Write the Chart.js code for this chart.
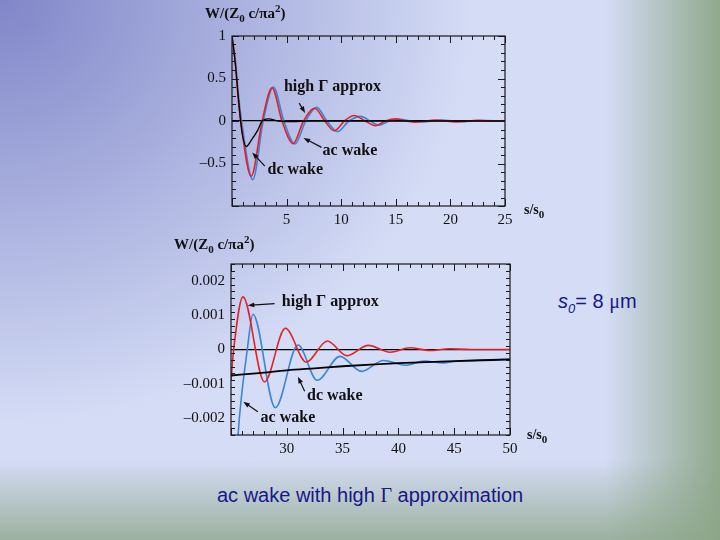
<!DOCTYPE html>
<html>
<head>
<meta charset="utf-8">
<script src="https://cdn.jsdelivr.net/npm/chart.js@4.4.0/dist/chart.umd.min.js"></script>
<style>
  body {
    margin: 0; width: 720px; height: 540px; overflow: hidden; position: relative;
    background:
      linear-gradient(to right, rgba(140,165,135,0) 84%, rgba(140,165,135,0.95) 100%),
      linear-gradient(to bottom, rgba(150,172,150,0) 85%, rgba(150,172,150,0.9) 100%),
      radial-gradient(ellipse 480px 430px at 0 0, rgba(128,134,200,1), rgba(128,134,200,0)),
      #d5ddf6;
  }
  canvas { position: absolute; }
  .ttl { position: absolute; font: bold 15px "Liberation Serif", serif; color: #111; white-space: nowrap; }
  .ttl sub, .ttl sup { font-size: 11px; line-height: 0; }
  .slide { position: absolute; font: 20px "Liberation Sans", Arial, sans-serif; color: #17178a; white-space: nowrap; }
  .slide sub { font-size: 13px; line-height: 0; }
</style>
</head>
<body>
<canvas id="top" width="370" height="232" style="left:180px;top:0px"></canvas>
<canvas id="bottom" width="380" height="228" style="left:170px;top:232px"></canvas>

<div class="ttl" style="left:205px;top:5px">W/(Z<sub>0</sub> c/πa<sup>2</sup>)</div>
<div class="ttl" style="left:174px;top:236px">W/(Z<sub>0</sub> c/πa<sup>2</sup>)</div>
<div class="ttl" style="left:524px;top:202px;font-size:14px">s/s<sub>0</sub></div>
<div class="ttl" style="left:527px;top:427px;font-size:14px">s/s<sub>0</sub></div>

<div class="slide" style="left:558px;top:290px"><i>s<sub>0</sub></i>= 8 <span style="font-family:'Liberation Serif',serif">μ</span>m</div>
<div class="slide" style="left:217px;top:484px">ac wake with high <span style="font-family:'Liberation Serif',serif">Γ</span> approximation</div>

<script>
// top panel, s/s0 from 0 to 25
const topTicksX = [5, 10, 15, 20, 25];
const topTicksY = [-0.5, 0, 0.5, 1];

const redTopS = [0, 0.3, 0.55, 0.8, 1.76, 2.76, 3.67, 4.58, 5.6, 6.55, 7.58, 8.5, 9.36, 10.3, 11.18, 12.2, 13.15, 14.05, 14.97, 15.9, 16.8, 17.7, 18.6, 19.6, 20.7, 21.6, 22.5, 23.5, 25];
const redTopW = [1, 0.69, 0.29, 0, -0.65, 0, 0.39, 0, -0.266, 0, 0.15, 0, -0.115, 0, 0.065, 0, -0.055, 0, 0.025, 0, -0.015, 0, 0.01, 0, -0.01, 0, 0.008, 0, 0];

const blueTopS = [0, 0.3, 0.6, 0.88, 1.9, 2.86, 3.79, 4.75, 5.76, 6.75, 7.75, 8.7, 9.67, 10.7, 11.79, 12.65, 13.45, 14.4, 15.4, 16.4, 17.4, 18.3, 19.2, 20.2, 21.2, 22.2, 23.2, 25];
const blueTopW = [1, 0.72, 0.3, 0, -0.69, 0, 0.40, 0, -0.27, 0, 0.16, 0, -0.125, 0, 0.055, 0, -0.05, 0, 0.02, 0, -0.012, 0, 0.01, 0, -0.008, 0, 0.006, 0];

const dcTopS = [0, 0.3, 0.6, 0.9, 1.3, 1.8, 2.36, 2.76, 3.33, 4.3, 5.5, 7, 25];
const dcTopW = [1, 0.68, 0.25, -0.12, -0.3, -0.22, -0.107, 0, 0.024, 0, -0.006, 0, 0];

// bottom panel, s/s0 from 25 to 50
const botTicksX = [30, 35, 40, 45, 50];
const botTicksY = [-0.002, -0.001, 0, 0.001, 0.002];

const redBotS = [25, 25.24, 26.07, 28.0, 29.87, 31.75, 33.63, 35.37, 37.3, 39.25, 41.04, 42.8, 44.6, 46.5, 50];
const redBotW = [-0.0009, 0, 0.00154, -0.00095, 0.00062, -0.00037, 0.00025, -0.00018, 0.00012, -0.00008, 0.00005, -0.00003, 0.00002, 0, 0];

const blueBotS = [25.3, 25.63, 26.46, 26.97, 28.97, 31.0, 32.73, 34.76, 36.7, 38.65, 40.6, 42.3, 44.0, 45, 50];
const blueBotW = [-0.0045, -0.0025, 0, 0.00103, -0.0017, 0.00013, -0.0009, -0.0002, -0.00064, -0.00032, -0.00046, -0.00034, -0.00039, -0.00035, -0.00029];

const dcBotS = [25, 27.5, 30, 32.5, 35, 37.5, 40, 45, 50];
const dcBotW = [-0.00076, -0.00069, -0.00061, -0.00055, -0.00049, -0.00044, -0.0004, -0.00034, -0.00029];

const RED = '#e2222b';
const BLUE = '#3a86d4';
const serif = '"Liberation Serif", "Times New Roman", serif';

const pts = (xs, ys) => xs.map((x, i) => ({ x, y: ys[i] }));
const minus = v => (v < 0 ? '\u2013' + Math.abs(v) : String(v));

// box with inward ticks on all four sides, like the original plots
const frameTicks = {
  id: 'frameTicks',
  afterDatasetsDraw(chart, args, o) {
    const { ctx, chartArea: a, scales: { x, y } } = chart;
    ctx.save();
    ctx.strokeStyle = '#1a1a1a';
    ctx.lineWidth = 1.2;
    ctx.strokeRect(a.left, a.top, a.right - a.left, a.bottom - a.top);
    ctx.lineWidth = 1;
    ctx.beginPath();
    const isMajor = (v, step) => Math.abs(v / step - Math.round(v / step)) < 1e-6;
    for (let v = x.min; v <= x.max + 1e-9; v += o.xMinor) {
      const px = Math.round(x.getPixelForValue(v)) + 0.5;
      const len = isMajor(v, o.xMajor) ? 7 : 4;
      ctx.moveTo(px, a.bottom); ctx.lineTo(px, a.bottom - len);
      ctx.moveTo(px, a.top); ctx.lineTo(px, a.top + len);
    }
    const n = Math.round((y.max - y.min) / o.yMinor);
    for (let i = 0; i <= n; i++) {
      const v = y.min + i * o.yMinor;
      const py = Math.round(y.getPixelForValue(v)) + 0.5;
      const len = isMajor(v, o.yMajor) ? 7 : 4;
      ctx.moveTo(a.left, py); ctx.lineTo(a.left + len, py);
      ctx.moveTo(a.right, py); ctx.lineTo(a.right - len, py);
    }
    ctx.stroke();
    ctx.restore();
  }
};

// curve labels with arrows, placed in data coordinates
const callouts = {
  id: 'callouts',
  afterDatasetsDraw(chart, args, o) {
    const { ctx, scales: { x, y } } = chart;
    ctx.save();
    ctx.font = 'bold 16px ' + serif;
    ctx.fillStyle = '#111';
    ctx.strokeStyle = '#111';
    ctx.textAlign = 'center';
    ctx.textBaseline = 'middle';
    o.items.forEach(it => {
      ctx.fillText(it.text, x.getPixelForValue(it.tx), y.getPixelForValue(it.ty));
      const x0 = x.getPixelForValue(it.ax), y0 = y.getPixelForValue(it.ay);
      const x1 = x.getPixelForValue(it.bx), y1 = y.getPixelForValue(it.by);
      const ang = Math.atan2(y1 - y0, x1 - x0);
      ctx.lineWidth = 1.2;
      ctx.beginPath();
      ctx.moveTo(x0, y0);
      ctx.lineTo(x1 - 4 * Math.cos(ang), y1 - 4 * Math.sin(ang));
      ctx.stroke();
      ctx.beginPath();
      ctx.moveTo(x1, y1);
      ctx.lineTo(x1 - 7 * Math.cos(ang - 0.35), y1 - 7 * Math.sin(ang - 0.35));
      ctx.lineTo(x1 - 7 * Math.cos(ang + 0.35), y1 - 7 * Math.sin(ang + 0.35));
      ctx.closePath();
      ctx.fill();
    });
    ctx.restore();
  }
};

function makeChart(id, cfg) {
  const tickFont = { family: serif, size: 15 };
  return new Chart(document.getElementById(id), {
    type: 'line',
    data: {
      datasets: [
        { label: 'dc wake', data: cfg.dc, borderColor: '#000', borderWidth: cfg.dcWidth },
        { label: 'high Γ approx', data: cfg.red, borderColor: RED, borderWidth: 1.6 },
        { label: 'ac wake', data: cfg.blue, borderColor: BLUE, borderWidth: 1.6 }
      ].map(d => Object.assign(d, { pointRadius: 0, fill: false, cubicInterpolationMode: 'monotone' }))
    },
    options: {
      responsive: false,
      animation: false,
      devicePixelRatio: 1,
      layout: { padding: cfg.padding },
      scales: {
        x: {
          type: 'linear',
          min: cfg.xMin, max: cfg.xMax,
          grid: { display: false, drawTicks: false },
          border: { display: false },
          afterBuildTicks: s => { s.ticks = cfg.xTicks.map(v => ({ value: v })); },
          afterFit: s => { s.height = cfg.xHeight; },
          ticks: { font: tickFont, color: '#111', padding: 5, maxRotation: 0, autoSkip: false, callback: v => minus(v) }
        },
        y: {
          min: cfg.yMin, max: cfg.yMax,
          grid: {
            drawTicks: false,
            color: c => (c.tick && c.tick.value === 0 ? '#000' : 'rgba(0,0,0,0)'),
            lineWidth: 1.3
          },
          border: { display: false },
          afterBuildTicks: s => { s.ticks = cfg.yTicks.map(v => ({ value: v })); },
          afterFit: s => { s.width = cfg.yWidth; },
          ticks: { font: tickFont, color: '#111', padding: 6, callback: v => minus(v) }
        }
      },
      plugins: {
        legend: { display: false },
        tooltip: { enabled: false },
        frameTicks: cfg.frame,
        callouts: { items: cfg.notes }
      }
    },
    plugins: [frameTicks, callouts]
  });
}

makeChart('top', {
  red: pts(redTopS, redTopW), blue: pts(blueTopS, blueTopW), dc: pts(dcTopS, dcTopW), dcWidth: 1.3,
  xMin: 0, xMax: 25, yMin: -1, yMax: 1,
  xTicks: topTicksX, yTicks: topTicksY,
  padding: { left: 0, top: 36, right: 45, bottom: 0 }, xHeight: 26, yWidth: 52,
  frame: { xMinor: 1, xMajor: 5, yMinor: 0.1, yMajor: 0.5 },
  notes: [
    { text: 'high Γ approx', tx: 9.2, ty: 0.40, ax: 6.15, ay: 0.21, bx: 6.7, by: 0.095 },
    { text: 'ac wake', tx: 10.8, ty: -0.35, ax: 8.2, ay: -0.31, bx: 6.55, by: -0.2 },
    { text: 'dc wake', tx: 5.8, ty: -0.58, ax: 3.0, ay: -0.53, bx: 1.85, by: -0.37 }
  ]
});

makeChart('bottom', {
  red: pts(redBotS, redBotW), blue: pts(blueBotS, blueBotW), dc: pts(dcBotS, dcBotW), dcWidth: 1.8,
  xMin: 25, xMax: 50, yMin: -0.0025, yMax: 0.0025,
  xTicks: botTicksX, yTicks: botTicksY,
  padding: { left: 0, top: 32, right: 40, bottom: 0 }, xHeight: 25, yWidth: 61,
  frame: { xMinor: 1, xMajor: 5, yMinor: 0.0002, yMajor: 0.001 },
  notes: [
    { text: 'high Γ approx', tx: 33.9, ty: 0.0014, ax: 28.9, ay: 0.00134, bx: 26.5, by: 0.00129 },
    { text: 'dc wake', tx: 34.3, ty: -0.00135, ax: 31.6, ay: -0.00122, bx: 31.0, by: -0.0008 },
    { text: 'ac wake', tx: 30.1, ty: -0.00201, ax: 27.4, ay: -0.00182, bx: 26.1, by: -0.00153 }
  ]
});
</script>
</body>
</html>
